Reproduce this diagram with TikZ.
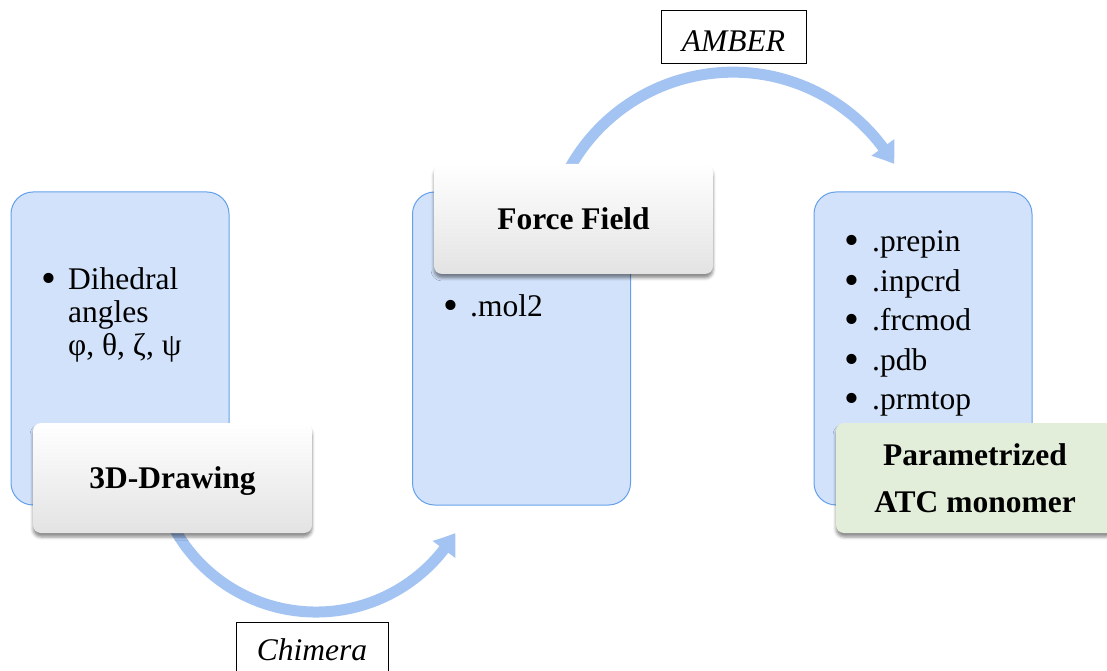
\documentclass[tikz,border=0pt]{standalone}
\usepackage{fontspec}
\setmainfont{Liberation Serif}
\usetikzlibrary{arrows.meta,bending,shadows.blur}
\definecolor{boxfill}{RGB}{210,226,250}
\definecolor{boxline}{RGB}{100,160,235}
\definecolor{flowc}{RGB}{163,195,242}
\definecolor{greenfill}{RGB}{226,238,218}
\newcommand{\bigbul}{\hspace{-3pt}\raisebox{-3pt}{\scalebox{1.35}{•}}}
\begin{document}
\begin{tikzpicture}[x=1pt,y=1pt,
  bluebox/.style={draw=boxline, line width=1pt, fill=boxfill, rounded corners=22pt, minimum width=218pt, minimum height=313pt, inner sep=0pt},
  labelbox/.style={rounded corners=8pt, inner sep=0pt, minimum width=279pt, font=\bfseries\fontsize{31.5}{33}\selectfont, blur shadow={shadow xshift=0pt, shadow yshift=-4pt, shadow blur radius=3pt, shadow opacity=45}},
  whitelabel/.style={labelbox, top color=white, middle color=white, bottom color=black!11},
  greenlabel/.style={labelbox, fill=greenfill},
  tooltag/.style={draw=black, line width=1pt, fill=white, inner sep=0pt, font=\itshape\fontsize{31.5}{33}\selectfont},
  bullettext/.style={anchor=base west, inner sep=0pt, align=left},
  flow/.style={draw=flowc, line width=11pt, -{Triangle[bend,width=27pt,length=20pt]}},
]
\useasboundingbox (0,0) rectangle (1107,670);
% blue content boxes
\node[bluebox] (b1) at (120,321.5) {};
\node[bluebox] (b2) at (521.5,321.5) {};
\node[bluebox] (b3) at (923,321.5) {};
% bullet texts
\node[bullettext, font=\fontsize{31.5}{33}\selectfont] (t1) at (44,380)
  {\begin{tabular}[t]{@{}l@{}l@{}}\makebox[24pt][l]{\bigbul}&Dihedral\\&angles\\&φ, θ, ζ, ψ\end{tabular}};
\node[bullettext, font=\fontsize{31.5}{33}\selectfont] (t2) at (446,353)
  {\begin{tabular}[t]{@{}l@{}l@{}}\makebox[24pt][l]{\bigbul}&.mol2\end{tabular}};
\node[bullettext, font=\fontsize{31.5}{39.5}\selectfont] (t3) at (847,418)
  {\begin{tabular}[t]{@{}l@{}l@{}}\makebox[25pt][l]{\bigbul}&.prepin\\\makebox[25pt][l]{\bigbul}&.inpcrd\\\makebox[25pt][l]{\bigbul}&.frcmod\\\makebox[25pt][l]{\bigbul}&.pdb\\\makebox[25pt][l]{\bigbul}&.prmtop\end{tabular}};
% curved arrows
\coordinate (cc) at (316,220);
\coordinate (cs) at ([shift={(205:162)}]cc);
\draw[flow] (cs) arc[start angle=205, end angle=329.2, radius=162];
\coordinate (ac) at (733,410.8);
\coordinate (as) at ([shift={(152:187)}]ac);
\draw[flow] (as) arc[start angle=152, end angle=30.6, radius=187];
% labels
\node[whitelabel, anchor=base, text height=65pt, text depth=45pt] (draw3d) at (172.5,182) {3D-Drawing};
\node[whitelabel, anchor=base, text height=66pt, text depth=44pt] (ff) at (573.5,440) {Force Field};
\node[greenlabel, anchor=base, minimum width=278pt, text height=42pt, text depth=68pt] (atc) at (975,205)
  {\fontsize{31.5}{47}\selectfont\begin{tabular}[t]{@{}c@{}}Parametrized\\ATC monomer\end{tabular}};
% tool tags
\node[tooltag, anchor=base, text height=38pt, text depth=20pt, minimum width=152pt] (chimera) at (312,10) {Chimera};
\node[tooltag, anchor=base, text height=41pt, text depth=12pt, minimum width=145pt] (amber) at (733.5,618) {AMBER};
\end{tikzpicture}
\end{document}
